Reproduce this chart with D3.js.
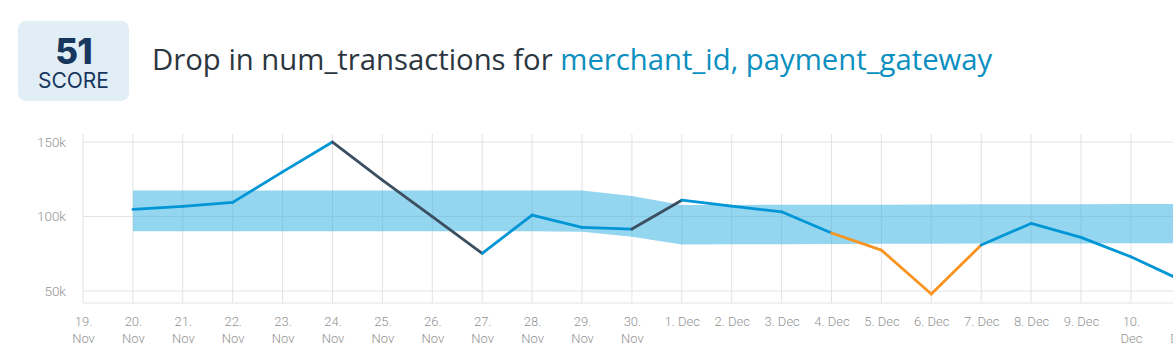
<!DOCTYPE html>
<html>
<head>
<meta charset="utf-8">
<script src="https://cdn.jsdelivr.net/npm/d3@7"></script>
<style>
  html, body { margin: 0; padding: 0; background: #fff; overflow: hidden; }
  svg { display: block; }
  .tick text { font-family: Roboto, sans-serif; font-weight: 300; fill: #939393; }
</style>
</head>
<body>
<svg id="chart"></svg>
<script>
const width = 1173;
const height = 359;

// tick labels, one per day (19 Nov .. 11 Dec)
const days = ['19. Nov', '20. Nov', '21. Nov', '22. Nov', '23. Nov', '24. Nov', '25. Nov',
  '26. Nov', '27. Nov', '28. Nov', '29. Nov', '30. Nov', '1. Dec', '2. Dec', '3. Dec',
  '4. Dec', '5. Dec', '6. Dec', '7. Dec', '8. Dec', '9. Dec', '10. Dec', '11. Dec'];

// series starts on 20 Nov
const seriesDays = days.slice(1);
const values = [104800, 106800, 109500, 130000, 150000, 124500, 100000, 75300, 101000,
  92700, 91600, 111000, 107000, 103200, 89000, 77500, 48000, 80900, 95400, 86000, 73000, 57400];
const upper = [117500, 117500, 117500, 117500, 117500, 117500, 117500, 117500, 117500,
  117500, 113800, 107700, 107800, 107900, 108000, 108000, 108100, 108200, 108300, 108300, 108400, 108400];
const lower = [90200, 90200, 90200, 90200, 90200, 90200, 90200, 90200, 90200,
  89800, 86500, 81300, 81400, 81500, 81600, 81700, 81800, 81900, 82000, 82000, 82100, 82100];
// colour class of the segment that ends on each day
const segment = [null, 'normal', 'normal', 'normal', 'normal', 'drop', 'drop', 'drop', 'normal',
  'normal', 'normal', 'drop', 'normal', 'normal', 'normal', 'anomaly', 'anomaly', 'anomaly',
  'normal', 'normal', 'normal', 'normal'];
const yTicks = [50000, 100000, 150000];

const segmentColor = { normal: '#0096d6', drop: '#3b4f61', anomaly: '#f7931e' };

const svg = d3.select('#chart')
  .attr('width', width)
  .attr('height', height);

// header
svg.append('rect')
  .attr('x', 18).attr('y', 21)
  .attr('width', 111).attr('height', 80)
  .attr('rx', 8)
  .attr('fill', '#e2eef5');

svg.append('text')
  .attr('x', 73.5).attr('y', 63.5)
  .attr('text-anchor', 'middle')
  .attr('font-family', 'Inter, sans-serif')
  .attr('font-weight', 800)
  .attr('font-size', 35)
  .attr('letter-spacing', -1)
  .attr('fill', '#17375e')
  .text('51');

svg.append('text')
  .attr('x', 73.5).attr('y', 87.5)
  .attr('text-anchor', 'middle')
  .attr('font-family', 'Inter, sans-serif')
  .attr('font-size', 21)
  .attr('fill', '#17375e')
  .text('SCORE');

const title = svg.append('text')
  .attr('x', 152).attr('y', 70)
  .attr('font-family', '"Open Sans", sans-serif')
  .attr('font-size', 29.3)
  .attr('fill', '#2b3640');
title.append('tspan').text('Drop in num_transactions for ');
title.append('tspan').attr('fill', '#0a8fc0').text('merchant_id, payment_gateway');

// chart
const plotLeft = 83;
const step = 49.9;

const x = d3.scalePoint()
  .domain(days)
  .range([plotLeft, plotLeft + step * (days.length - 1)]);

const y = d3.scaleLinear()
  .domain([42000, 155400])
  .range([303, 134]);

// vertical grid
svg.append('g')
  .selectAll('line')
  .data(days)
  .join('line')
  .attr('x1', d => x(d)).attr('x2', d => x(d))
  .attr('y1', 134).attr('y2', 303)
  .attr('stroke', '#e3e3e3');

// horizontal grid
svg.append('g')
  .selectAll('line')
  .data(yTicks)
  .join('line')
  .attr('x1', plotLeft).attr('x2', width)
  .attr('y1', d => y(d)).attr('y2', d => y(d))
  .attr('stroke', '#e3e3e3');

// band
const area = d3.area()
  .x((d, i) => x(seriesDays[i]))
  .y0((d, i) => y(lower[i]))
  .y1((d, i) => y(upper[i]));

svg.append('path')
  .datum(upper)
  .attr('d', area)
  .attr('fill', '#29abe2')
  .attr('fill-opacity', 0.5);

// line segments
const segs = [];
for (let i = 1; i < values.length; i++) {
  segs.push({ a: i - 1, b: i, kind: segment[i] });
}
svg.append('g')
  .selectAll('line')
  .data(segs)
  .join('line')
  .attr('x1', d => x(seriesDays[d.a])).attr('y1', d => y(values[d.a]))
  .attr('x2', d => x(seriesDays[d.b])).attr('y2', d => y(values[d.b]))
  .attr('stroke', d => segmentColor[d.kind])
  .attr('stroke-width', 2.8)
  .attr('stroke-linecap', 'round');

// x axis
const xAxis = svg.append('g')
  .attr('transform', 'translate(0,303)')
  .call(d3.axisBottom(x).tickSize(0).tickPadding(0));
xAxis.select('.domain').attr('stroke', '#e3e3e3').attr('d', `M${plotLeft},0H${width}`);
xAxis.selectAll('.tick text')
  .attr('font-size', 13)
  .attr('y', 0)
  .attr('dy', null)
  .each(function (d) {
    const t = d3.select(this);
    t.text(null);
    const parts = d.length > 6 ? [d.split(' ')[0], d.split(' ')[1]] : [d];
    parts.forEach((p, i) => {
      t.append('tspan').attr('x', 0).attr('y', 22.5 + i * 17).text(p);
    });
  });

// y axis
const yAxis = svg.append('g')
  .attr('transform', `translate(${plotLeft},0)`)
  .call(d3.axisLeft(y).tickValues(yTicks).tickSize(0).tickPadding(17)
    .tickFormat(d => d3.format('d')(d / 1000) + 'k'));
yAxis.select('.domain').remove();
yAxis.selectAll('.tick text').attr('font-size', 13.5);
</script>
</body>
</html>
